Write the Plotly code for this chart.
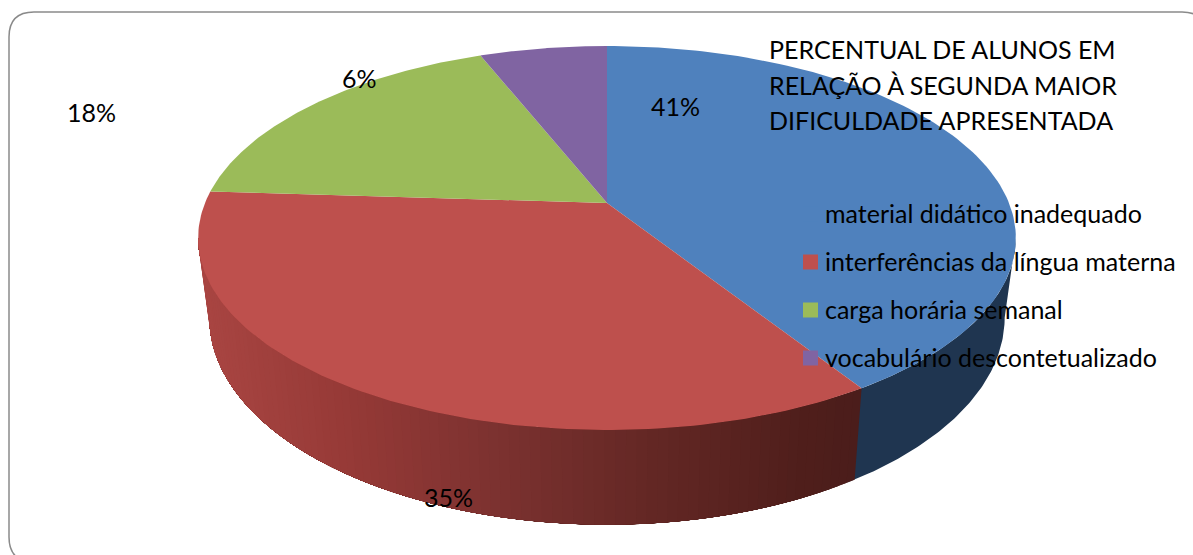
import numpy as np
import plotly.graph_objects as go

categories = ["material didático inadequado", "interferências da língua materna",
              "carga horária semanal", "vocabulário descontetualizado"]
values = [41, 35, 18, 6]
labels = ["41%", "35%", "18%", "6%"]
colors = ["#4F81BD", "#BE504D", "#9BBB59", "#8064A2"]
title_lines = ["PERCENTUAL DE ALUNOS EM", "RELAÇÃO À SEGUNDA MAIOR", "DIFICULDADE APRESENTADA"]

FONT = "Lato"
W, H = 1193, 555
CX, PERSP = 607.0, -0.1823
TOP = dict(r=402.0, a=148.6, b=203.0)
BOT = dict(r=391.0, a=149.0, b=280.0)
TANGENT = np.arccos(PERSP)


def proj(theta, rho, disc):
    X = rho * np.sin(theta)
    t = -rho * np.cos(theta)
    w = 1 + PERSP * t
    return CX + disc["r"] * X / w, (disc["a"] * t + disc["b"]) / w


def mix(stops, x):
    xs = [s[0] for s in stops]
    return "rgb(%d,%d,%d)" % tuple(
        np.interp(x, xs, [s[1][i] for s in stops]) for i in range(3)
    )


fracs = np.cumsum([0] + values) / sum(values)
angles = fracs * 2 * np.pi
fig = go.Figure()


def poly(x, y, color, lw=0.0):
    fig.add_trace(go.Scatter(x=np.asarray(x), y=np.asarray(y), mode="lines", fill="toself",
                             fillcolor=color, line=dict(color=color, width=lw),
                             hoverinfo="skip", showlegend=False))


def wall(start, end, color):
    th = np.linspace(start, end, 80)
    tx, ty = proj(th, 1, TOP)
    bx, by = proj(th, 1, BOT)
    poly(np.r_[tx, bx[::-1]], np.r_[ty, by[::-1]], color)


# Side wall of the first slice
a0 = angles[1]
wall(TANGENT, a0 + 0.02, "#1F3550")

# Side wall of the second slice, shaded by screen position; each strip is painted over the last
stops = [(200, (170, 70, 67)), (350, (150, 58, 55)), (500, (124, 50, 48)),
         (650, (100, 40, 37)), (800, (80, 31, 28)), (860, (75, 29, 27))]
end = 2 * np.pi - TANGENT
edges = np.linspace(a0, end, 90)
for e0, e1 in zip(edges[:-1], edges[1:]):
    tx, ty = proj((e0 + e1) / 2, 1, TOP)
    bx, by = proj((e0 + e1) / 2, 1, BOT)
    wall(e0, end, mix(stops, (tx + bx) / 2))

# Top faces
for i in range(len(values)):
    th = np.linspace(angles[i], angles[i + 1], 120)
    x, y = proj(th, 1, TOP)
    cx0, cy0 = proj(0.0, 0.0, TOP)
    poly(np.r_[cx0, x, cx0], np.r_[cy0, y, cy0], colors[i])

# Legend markers
legend_y = [214, 262, 310, 358]
fig.add_trace(go.Scatter(x=[810.5] * 4, y=legend_y, mode="markers",
                         marker=dict(symbol="square", size=15, color=colors, line=dict(width=0)),
                         hoverinfo="skip", showlegend=False))

ann = []
for s, x, y in zip(labels, [675, 448, 91, 359], [106, 497, 112, 78]):
    ann.append(dict(x=x, y=y, text=s, xanchor="center", yanchor="middle"))
for s, y in zip(title_lines, [49, 85, 120]):
    ann.append(dict(x=768, y=y, text=s, xanchor="left", yanchor="middle"))
for s, y in zip(categories, legend_y):
    ann.append(dict(x=824, y=y - 1, text=s, xanchor="left", yanchor="middle"))
for a in ann:
    a.update(showarrow=False, xref="x", yref="y", font=dict(family=FONT, size=25, color="black"),
             borderpad=0)

L, T, R, B, r = 9, 12, 1207, 562, 25
border = (f"M {L+r} {T} L {R-r} {T} Q {R} {T} {R} {T+r} L {R} {B-r} Q {R} {B} {R-r} {B} "
          f"L {L+r} {B} Q {L} {B} {L} {B-r} L {L} {T+r} Q {L} {T} {L+r} {T} Z")

fig.update_layout(
    width=W, height=H, autosize=False, margin=dict(l=0, r=0, t=0, b=0),
    paper_bgcolor="white", plot_bgcolor="white", showlegend=False,
    xaxis=dict(range=[0, W], visible=False, fixedrange=True),
    yaxis=dict(range=[H, 0], visible=False, fixedrange=True),
    annotations=ann,
    shapes=[dict(type="path", path=border, xref="x", yref="y", line=dict(color="#8A8A8A", width=1.5),
                 layer="below")],
)
fig.write_html("out.html", config=dict(displayModeBar=False),
               post_script="document.body.style.margin='0';document.documentElement.style.overflow='hidden';")
